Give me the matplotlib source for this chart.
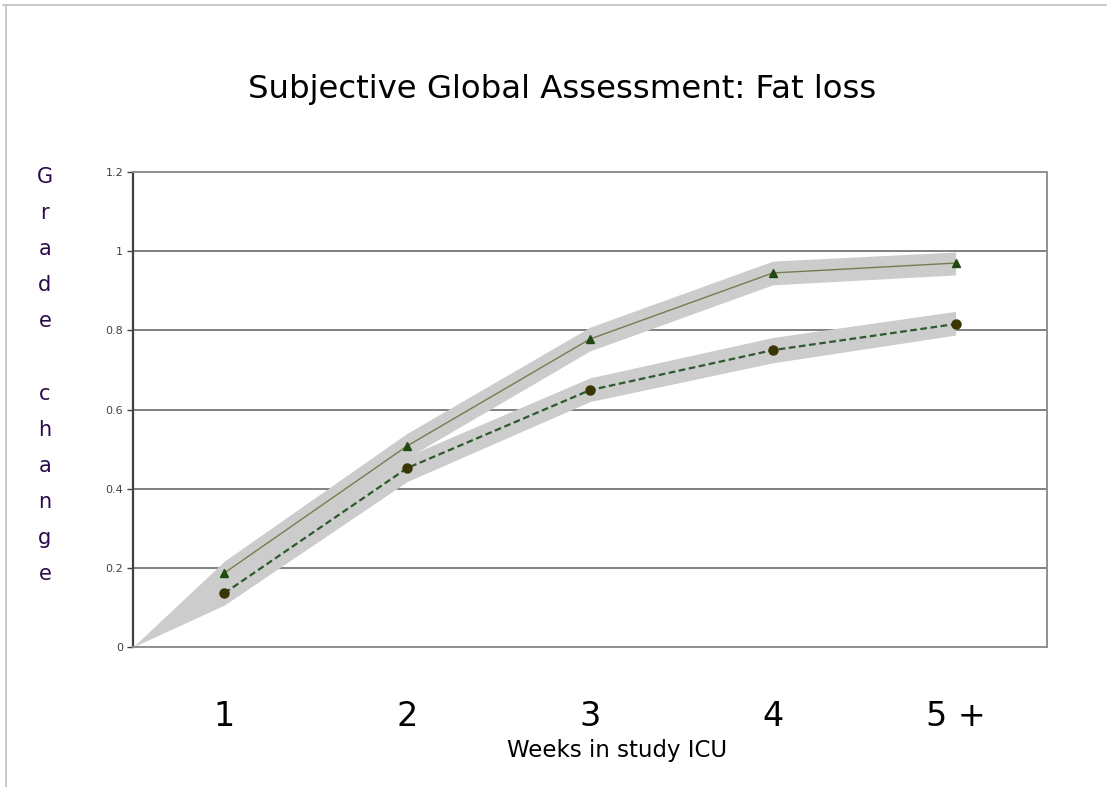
import matplotlib

matplotlib.use("Agg")

import matplotlib.pyplot as plt
import numpy as np

# chart data
weeks = [1, 2, 3, 4, 5]
week_labels = ["1", "2", "3", "4", "5 +"]
triangle_vals = [0.187, 0.508, 0.778, 0.945, 0.970]
circle_vals = [0.136, 0.452, 0.649, 0.750, 0.816]

# shaded bands (start at the axis origin)
band_x = [0.5, 1, 2, 3, 4, 5]
tri_band_lo = [0.0, 0.157, 0.478, 0.748, 0.915, 0.940]
tri_band_hi = [0.0, 0.217, 0.540, 0.808, 0.975, 0.998]
circ_band_lo = [0.0, 0.106, 0.418, 0.620, 0.718, 0.788]
circ_band_hi = [0.0, 0.166, 0.482, 0.680, 0.782, 0.848]

y_ticks = [0, 0.2, 0.4, 0.6, 0.8, 1, 1.2]
y_label_chars = list("Grade") + [""] + list("change")

fig = plt.figure(figsize=(11.07, 7.87), dpi=100)
ax = fig.add_axes([0.1201, 0.1779, 0.8257, 0.6035])

band_color = "#cccccc"
ax.fill_between(band_x, tri_band_lo, tri_band_hi, color=band_color, lw=0, zorder=1)
ax.fill_between(band_x, circ_band_lo, circ_band_hi, color=band_color, lw=0, zorder=1)

ax.plot(weeks, triangle_vals, color="#7a7a50", lw=1.0, marker="^", ms=6,
        markerfacecolor="#1f4a12", markeredgecolor="#1f4a12", zorder=3)
ax.plot(weeks, circle_vals, color="#2d5a2d", lw=1.6, ls=(0, (3, 1.6)), marker="o", ms=6.5,
        markerfacecolor="#3a3505", markeredgecolor="#3a3505", zorder=3)

ax.set_xlim(0.5, 5.5)
ax.set_ylim(0, 1.2)
ax.set_yticks(y_ticks)
ax.set_yticklabels(["0", "0.2", "0.4", "0.6", "0.8", "1", "1.2"])
ax.tick_params(axis="y", length=4, width=1, color="#404040", labelsize=8,
               labelcolor="#404040", pad=3)
ax.set_xticks(weeks)
ax.set_xticklabels(week_labels)
ax.tick_params(axis="x", length=0, labelsize=24, pad=38)

ax.grid(axis="y", color="#808080", lw=1.4, zorder=0)
ax.set_axisbelow(True)
for side in ["top", "right", "bottom"]:
    ax.spines[side].set_color("#909090")
    ax.spines[side].set_linewidth(1.4)
ax.spines["left"].set_color("#404040")
ax.spines["left"].set_linewidth(1.6)

fig.text(0.5575, 1 - 750 / 787, "Weeks in study ICU", fontsize=16.5,
         ha="center", va="center")

fig.text(0.508, 0.886, "Subjective Global Assessment: Fat loss", fontsize=23.3,
         ha="center", va="center")

for i, ch in enumerate(y_label_chars):
    fig.text(0.0405, 1 - (177 + i * 36.1) / 787, ch, fontsize=15, color="#2a0a4a",
             ha="center", va="center")

# slide frame lines
fig.add_artist(plt.Line2D([0.003, 1.0], [0.994, 0.994], color="#c0c0c0", lw=1.2))
fig.add_artist(plt.Line2D([0.005, 0.005], [0.0, 0.994], color="#c0c0c0", lw=1.2))

fig.savefig("out.png", dpi=100)
